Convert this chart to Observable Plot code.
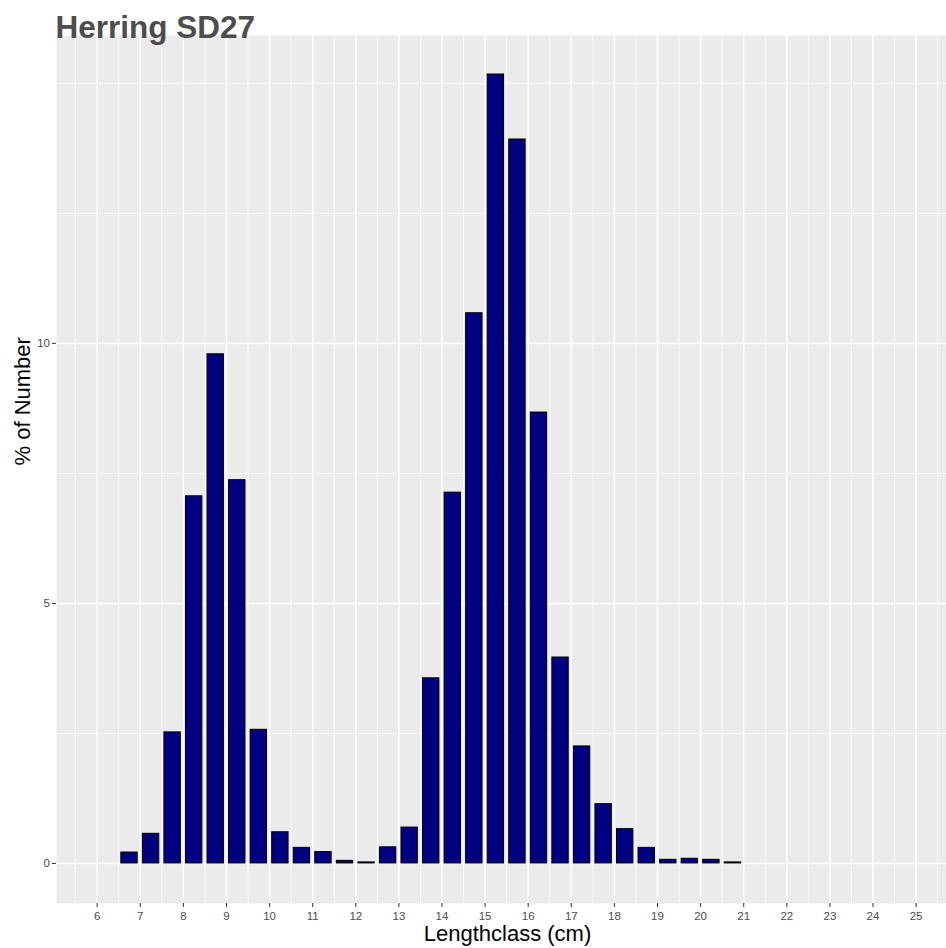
<!DOCTYPE html>
<html><head><meta charset="utf-8">
<script src="https://cdn.jsdelivr.net/npm/d3@7"></script>
<script src="https://cdn.jsdelivr.net/npm/@observablehq/plot@0.6"></script>
<style>body{margin:0;background:#fff;}</style>
</head><body><div id="chart"></div>
<script>
const chartTitle = "Herring SD27";
const xTitle = "Lengthclass (cm)";
const yTitle = "% of Number";

const lengthClass = [6.75, 7.25, 7.75, 8.25, 8.75, 9.25, 9.75, 10.25, 10.75, 11.25, 11.75, 12.25, 12.75, 13.25, 13.75, 14.25, 14.75, 15.25, 15.75, 16.25, 16.75, 17.25, 17.75, 18.25, 18.75, 19.25, 19.75, 20.25, 20.75];
const percentNumber = [0.21, 0.57, 2.52, 7.06, 9.79, 7.37, 2.57, 0.60, 0.30, 0.22, 0.05, 0.02, 0.31, 0.69, 3.56, 7.13, 10.58, 15.17, 13.92, 8.67, 3.96, 2.25, 1.14, 0.66, 0.30, 0.07, 0.09, 0.07, 0.02];

const xTicks = [6, 7, 8, 9, 10, 11, 12, 13, 14, 15, 16, 17, 18, 19, 20, 21, 22, 23, 24, 25];
const xMinorGrid = [5.5, 6.5, 7.5, 8.5, 9.5, 10.5, 11.5, 12.5, 13.5, 14.5, 15.5, 16.5, 17.5, 18.5, 19.5, 20.5, 21.5, 22.5, 23.5, 24.5, 25.5];
const yTicks = [0, 5, 10];
const yMinorGrid = [2.5, 7.5, 12.5, 15];

const data = lengthClass.map((x, i) => ({x, y: percentNumber[i]}));
const halfWidth = 0.19;

const chart = Plot.plot({
  width: 946, height: 948,
  marginLeft: 56, marginRight: 0, marginTop: 35, marginBottom: 45,
  style: {fontFamily: "'Liberation Sans', Arial, Helvetica, sans-serif", background: "white"},
  x: {domain: [5.056, 25.705]},
  y: {domain: [-0.77, 15.92]},
  marks: [
    Plot.frame({fill: "#EBEBEB", stroke: null}),
    Plot.ruleX(xMinorGrid, {stroke: "white", strokeWidth: 0.75}),
    Plot.ruleX(xTicks, {stroke: "white", strokeWidth: 1.5}),
    Plot.ruleY(yMinorGrid, {stroke: "white", strokeWidth: 0.75}),
    Plot.ruleY(yTicks, {stroke: "white", strokeWidth: 1.5}),
    Plot.rectY(data, {x1: d => d.x - halfWidth, x2: d => d.x + halfWidth, y1: 0, y2: "y", fill: "#000080", stroke: "black", strokeWidth: 1}),
    Plot.axisX(xTicks, {tickSize: 4, tickPadding: 4.5, fontSize: 11.5, stroke: "#333333", fill: "#4D4D4D", label: null, tickFormat: d3.format("d")}),
    Plot.axisY(yTicks, {tickSize: 4, tickPadding: 2.5, fontSize: 11.5, stroke: "#333333", fill: "#4D4D4D", label: null, tickFormat: d3.format("d")}),
    Plot.text([xTitle], {text: d => d, frameAnchor: "bottom", lineAnchor: "bottom", dy: 37, dx: 6, fontSize: 22, fill: "black"}),
    Plot.text([yTitle], {text: d => d, frameAnchor: "left", lineAnchor: "bottom", rotate: -90, dx: -26.5, dy: -4, fontSize: 22, fill: "black"}),
    Plot.text([chartTitle], {text: d => d, frameAnchor: "top-left", textAnchor: "start", lineAnchor: "bottom", dx: -1, dy: 2.5, fontSize: 31.5, fontWeight: "bold", fill: "#4D4D4D"})
  ]
});
document.getElementById("chart").appendChild(chart);
</script>
</body></html>
